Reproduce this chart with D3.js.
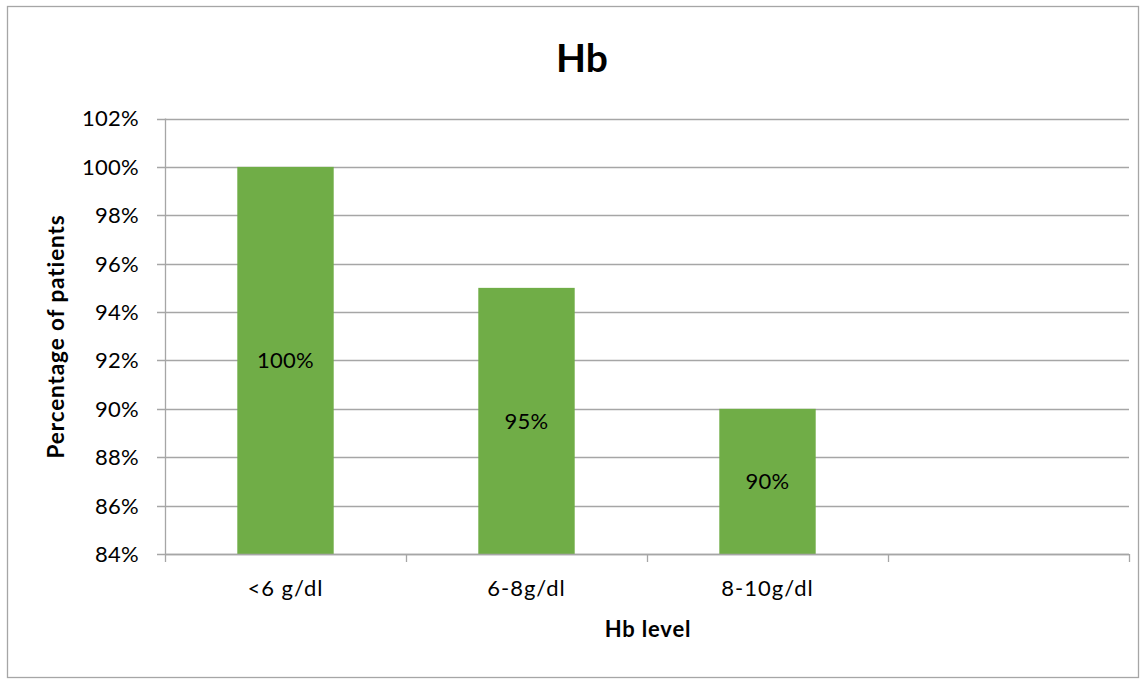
<!DOCTYPE html>
<html>
<head>
<meta charset="utf-8">
<script src="https://cdn.jsdelivr.net/npm/d3@7"></script>
<style>
  html, body { margin: 0; padding: 0; background: #fff; }
  svg { display: block; font-family: Lato, "Open Sans", sans-serif; }
</style>
</head>
<body>
<svg id="chart" width="1145" height="681"></svg>
<script>
const categories = ["<6 g/dl", "6-8g/dl", "8-10g/dl", ""];
const values = [1.00, 0.95, 0.90, null];
const yTicks = [0.84, 0.86, 0.88, 0.90, 0.92, 0.94, 0.96, 0.98, 1.00, 1.02];
const title = "Hb";
const xTitle = "Hb level";
const yTitle = "Percentage of patients";

const svg = d3.select("#chart");
const plot = { left: 165, right: 1129, top: 118.5, bottom: 554 };

svg.append("rect").attr("x", 7.5).attr("y", 6.5).attr("width", 1131).attr("height", 671)
  .attr("fill", "#fff").attr("stroke", "#a6a6a6").attr("stroke-width", 1.3);

const x = d3.scaleBand().domain(categories).range([plot.left, plot.right]).padding(0);
const y = d3.scaleLinear().domain([0.84, 1.02]).range([plot.bottom, plot.top]);
const fmt = d3.format(".0%");

// gridlines
svg.append("g").selectAll("line").data(yTicks).join("line")
  .attr("x1", plot.left - 8).attr("x2", plot.right)
  .attr("y1", d => Math.round(y(d)) + 0.5).attr("y2", d => Math.round(y(d)) + 0.5)
  .attr("stroke", "#a6a6a6").attr("stroke-width", 1.3);

// y axis line
svg.append("line").attr("x1", plot.left + 0.5).attr("x2", plot.left + 0.5)
  .attr("y1", plot.top).attr("y2", plot.bottom)
  .attr("stroke", "#a6a6a6").attr("stroke-width", 1.3);

// y tick labels
svg.append("g").selectAll("text").data(yTicks).join("text")
  .attr("x", 139).attr("y", d => y(d)).attr("dy", "0.36em")
  .attr("text-anchor", "end").attr("font-size", 22).attr("letter-spacing", 0.3).attr("fill", "#000")
  .text(d => fmt(d));

// bars
const bw = x.bandwidth() * 0.4;
const barData = categories.map((c, i) => ({ c, v: values[i] })).filter(d => d.v != null);
svg.append("g").selectAll("rect").data(barData).join("rect")
  .attr("x", d => x(d.c) + (x.bandwidth() - bw) / 2)
  .attr("width", bw)
  .attr("y", d => y(d.v))
  .attr("height", d => y(0.84) - y(d.v))
  .attr("fill", "#70ad47");

// data labels
svg.append("g").selectAll("text").data(barData).join("text")
  .attr("x", d => x(d.c) + x.bandwidth() / 2)
  .attr("y", d => (y(d.v) + y(0.84)) / 2)
  .attr("dy", "0.36em")
  .attr("text-anchor", "middle").attr("font-size", 22).attr("letter-spacing", 0.3).attr("fill", "#000")
  .text(d => fmt(d.v));

// x axis line and ticks
svg.append("line").attr("x1", plot.left).attr("x2", plot.right)
  .attr("y1", plot.bottom + 0.5).attr("y2", plot.bottom + 0.5)
  .attr("stroke", "#a6a6a6").attr("stroke-width", 1.3);
const bounds = categories.map(c => x(c)).concat([plot.right]);
svg.append("g").selectAll("line").data(bounds).join("line")
  .attr("x1", d => Math.round(d) + 0.5).attr("x2", d => Math.round(d) + 0.5)
  .attr("y1", plot.bottom).attr("y2", plot.bottom + 8)
  .attr("stroke", "#a6a6a6").attr("stroke-width", 1.3);

// x tick labels
svg.append("g").selectAll("text").data(categories).join("text")
  .attr("x", d => x(d) + x.bandwidth() / 2).attr("y", 596)
  .attr("text-anchor", "middle").attr("font-size", 22).attr("letter-spacing", 1).attr("fill", "#000")
  .text(d => d);

// titles
svg.append("text").attr("x", 582).attr("y", 72).attr("text-anchor", "middle")
  .attr("font-size", 39).attr("font-weight", "bold").attr("fill", "#000").text(title);
svg.append("text").attr("x", 648).attr("y", 637).attr("text-anchor", "middle")
  .attr("font-size", 22).attr("letter-spacing", 0.8).attr("font-weight", "bold").attr("fill", "#000").text(xTitle);
svg.append("text").attr("transform", "translate(64,336.5) rotate(-90)")
  .attr("text-anchor", "middle")
  .attr("font-size", 22.5).attr("letter-spacing", 0.9).attr("font-weight", "bold").attr("fill", "#000").text(yTitle);
</script>
</body>
</html>
